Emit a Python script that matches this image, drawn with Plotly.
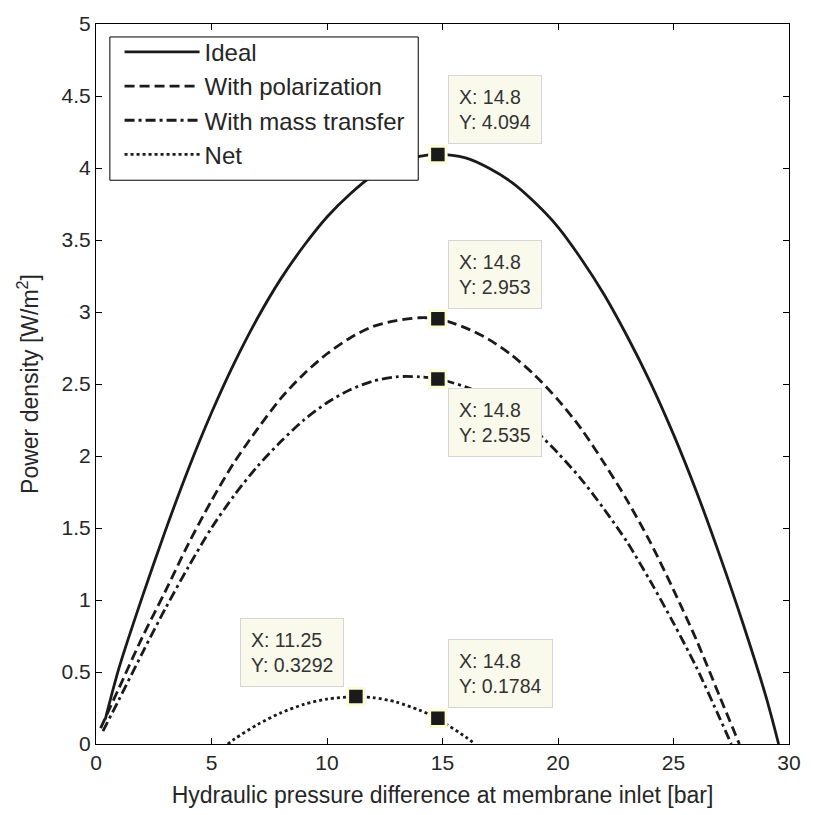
import plotly.graph_objects as go

# Hydraulic pressure difference [bar] and power density [W/m2] for each model
x_ideal = [0.4, 1, 2, 3, 4, 5, 6, 7, 8, 9, 10, 11, 12, 13, 14, 14.8, 16, 17, 18, 19,
           20, 21, 22, 23, 24, 25, 26, 27, 28, 29, 29.55]
y_ideal = [0.17, 0.53, 1.02, 1.48, 1.91, 2.30, 2.65, 2.96, 3.23, 3.46, 3.66, 3.82, 3.95,
           4.03, 4.08, 4.094, 4.07, 4.00, 3.90, 3.76, 3.59, 3.37, 3.12, 2.83, 2.51,
           2.15, 1.75, 1.31, 0.84, 0.33, 0.0]

x_pol = [0.2, 1, 2, 3, 4, 5, 6, 7, 8, 9, 10, 11, 12, 13, 14, 14.8, 16, 17, 18, 19,
         20, 21, 22, 23, 24, 25, 26, 27, 27.85]
y_pol = [0.11, 0.39, 0.74, 1.06, 1.39, 1.69, 1.96, 2.19, 2.40, 2.57, 2.71, 2.82, 2.90,
         2.94, 2.96, 2.953, 2.89, 2.81, 2.70, 2.56, 2.39, 2.19, 1.95, 1.69, 1.40,
         1.07, 0.72, 0.33, 0.0]

x_mt = [0.3, 1, 2, 3, 4, 5, 6, 7, 8, 9, 10, 11, 12, 13, 14, 14.8, 16, 17, 18, 19,
        20, 21, 22, 23, 24, 25, 26, 27, 27.5]
y_mt = [0.09, 0.31, 0.63, 0.94, 1.23, 1.50, 1.73, 1.93, 2.10, 2.25, 2.37, 2.46, 2.52,
        2.55, 2.55, 2.535, 2.48, 2.41, 2.31, 2.18, 2.02, 1.84, 1.63, 1.40, 1.13,
        0.84, 0.53, 0.18, 0.0]

x_net = [5.7, 6, 7, 8, 9, 10, 11, 11.25, 12, 13, 14, 14.8, 15, 16, 16.4]
y_net = [0.0, 0.035, 0.136, 0.216, 0.275, 0.312, 0.328, 0.3292, 0.322, 0.291, 0.235,
         0.1784, 0.156, 0.049, 0.0]

# Data cursors: (x, y, side of the label box)
tip_x = [14.8, 14.8, 14.8, 11.25, 14.8]
tip_y = [4.094, 2.953, 2.535, 0.3292, 0.1784]
tip_side = ["above-right", "above-right", "below-right", "above-left", "above-right"]
tip_labels = ["X: 14.8<br>Y: 4.094", "X: 14.8<br>Y: 2.953", "X: 14.8<br>Y: 2.535",
              "X: 11.25<br>Y: 0.3292", "X: 14.8<br>Y: 0.1784"]

FONT = "Liberation Sans, Arial, Helvetica, sans-serif"
INK = "#1a1a1a"
LW = 2.8

fig = go.Figure()
series = [
    ("Ideal", x_ideal, y_ideal, "solid"),
    ("With polarization", x_pol, y_pol, "10px,5px"),
    ("With mass transfer", x_mt, y_mt, "10px,4px,3px,4px"),
    ("Net", x_net, y_net, "3px,3px"),
]
for name, xs, ys, dash in series:
    fig.add_trace(go.Scatter(
        x=xs, y=ys, name=name, mode="lines",
        line=dict(color=INK, width=LW, dash=dash, shape="spline", smoothing=0.8),
    ))

fig.add_trace(go.Scatter(
    x=tip_x, y=tip_y, mode="markers", showlegend=False, hoverinfo="skip",
    marker=dict(symbol="square", size=16.5, color=INK,
                line=dict(color="#fcfcd6", width=3)),
))

for tx, ty, side, label in zip(tip_x, tip_y, tip_side, tip_labels):
    if side == "above-right":
        anchor = dict(xanchor="left", yanchor="bottom", xshift=10, yshift=10)
    elif side == "below-right":
        anchor = dict(xanchor="left", yanchor="top", xshift=10, yshift=-9)
    else:
        anchor = dict(xanchor="right", yanchor="bottom", xshift=-12, yshift=10)
    fig.add_annotation(
        x=tx, y=ty, xref="x", yref="y", text=label, showarrow=False, align="left",
        font=dict(family=FONT, size=19.5, color="#333333"),
        bgcolor="#fafaec", bordercolor="#d6d6d6", borderwidth=1, borderpad=10,
        **anchor,
    )

# Legend frame: an opaque box that hides the curves beneath the legend entries
fig.add_shape(type="rect", xref="paper", yref="paper", layer="above",
              x0=0.02, x1=0.465, y0=0.783, y1=0.982,
              fillcolor="white", line=dict(color="black", width=1))

axis_common = dict(
    showline=True, linecolor="black", linewidth=1, mirror="ticks",
    ticks="inside", ticklen=6, tickcolor="black", showgrid=False, zeroline=False,
    tickfont=dict(family=FONT, size=21, color="#262626"),
)
fig.update_xaxes(range=[0, 30], dtick=5, tick0=0,
                 title=dict(text="Hydraulic pressure difference at membrane inlet [bar]",
                            font=dict(family=FONT, size=23, color="#262626"), standoff=13),
                 **axis_common)
fig.update_yaxes(range=[0, 5], dtick=0.5, tick0=0,
                 title=dict(text="Power density [W/m<sup>2</sup>]",
                            font=dict(family=FONT, size=23, color="#262626"), standoff=16),
                 **axis_common)

fig.update_layout(
    width=813, height=815,
    margin=dict(l=96, r=16, t=14, b=69),
    paper_bgcolor="white", plot_bgcolor="white",
    showlegend=True,
    legend=dict(x=0.034, y=0.992, xanchor="left", yanchor="top",
                bgcolor="rgba(0,0,0,0)", borderwidth=0,
                font=dict(family=FONT, size=24, color="#262626"),
                itemwidth=75),
)

fig.write_html("out.html")
